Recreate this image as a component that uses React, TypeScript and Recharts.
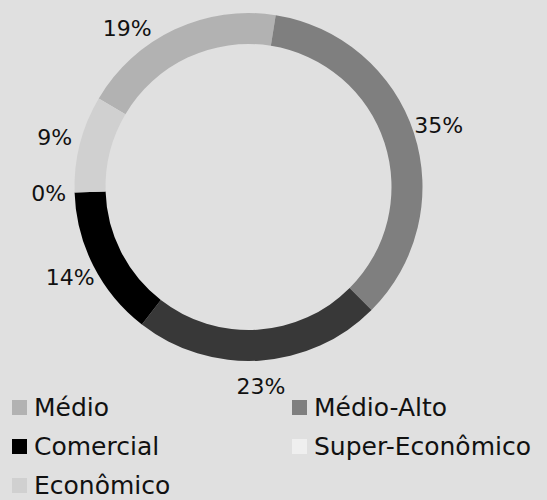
import React from "react";
import { PieChart, Pie, Cell, Legend } from "recharts";

// segment order is clockwise, starting with Médio on the upper left
const categories = ["Médio", "Médio-Alto", "Alto", "Comercial", "Super-Econômico", "Econômico"];
const shares = [19, 35, 23, 14, 0, 9];
const colors = ["#b2b2b2", "#7f7f7f", "#383838", "#000000", "#efefef", "#d0d0d0"];
// the 23% segment has no entry in the legend of the original
const legendItems = ["Médio", "Médio-Alto", "Comercial", "Super-Econômico", "Econômico"];

const data = categories.map((name, i) => ({ name, value: shares[i] }));

const FONT = "'DejaVu Sans', sans-serif";
const RAD = Math.PI / 180;
const LABEL_MIN_Y = 28; // labels slide along the ring to stay inside the top edge

function renderLabel(props: any) {
  const { cx, cy, midAngle, outerRadius, value } = props;
  const r = outerRadius + 26;
  let x = cx + r * Math.cos(-midAngle * RAD);
  let y = cy + r * Math.sin(-midAngle * RAD);
  if (y < LABEL_MIN_Y) {
    const dy = cy - LABEL_MIN_Y;
    const dx = Math.sqrt(Math.max(r * r - dy * dy, 0));
    x = cx + (x < cx ? -dx : dx);
    y = LABEL_MIN_Y;
  }
  return (
    <text
      x={x}
      y={y}
      textAnchor="middle"
      dominantBaseline="central"
      fill="#111"
      fontSize={22}
      fontFamily={FONT}
    >
      {`${value}%`}
    </text>
  );
}

function renderLegend() {
  return (
    <div
      style={{
        display: "grid",
        gridTemplateColumns: "280px auto",
        gridAutoRows: "39px",
        fontFamily: FONT,
        fontSize: 25,
        color: "#111",
      }}
    >
      {legendItems.map((name) => {
        const idx = categories.indexOf(name);
        return (
          <div key={name} style={{ display: "flex", alignItems: "center", whiteSpace: "nowrap" }}>
            <span
              style={{
                display: "inline-block",
                width: 15,
                height: 15,
                marginRight: 7,
                background: colors[idx],
              }}
            />
            {name}
          </div>
        );
      })}
    </div>
  );
}

export default function App() {
  return (
    <div
      style={{
        position: "absolute",
        left: 0,
        top: 0,
        width: 547,
        height: 500,
        background: "#e0e0e0",
        overflow: "hidden",
      }}
    >
      <PieChart width={547} height={500} margin={{ top: 0, right: 0, bottom: 0, left: 0 }}>
        <Pie
          data={data}
          dataKey="value"
          nameKey="name"
          cx={248.5}
          cy={187}
          innerRadius={143}
          outerRadius={174}
          startAngle={149.4}
          endAngle={-210.6}
          stroke="none"
          label={renderLabel}
          labelLine={false}
          isAnimationActive={false}
        >
          {data.map((d, i) => (
            <Cell key={d.name} fill={colors[i]} />
          ))}
        </Pie>
        <Legend
          content={renderLegend}
          wrapperStyle={{ left: 12, top: 388, width: 535, bottom: "auto" }}
        />
      </PieChart>
    </div>
  );
}
